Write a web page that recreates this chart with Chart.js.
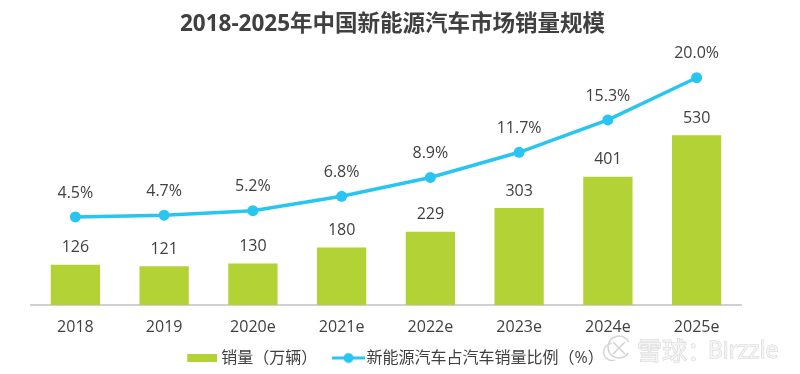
<!DOCTYPE html>
<html>
<head>
<meta charset="utf-8">
<style>
  html, body { margin: 0; padding: 0; background: #fff; }
  canvas { display: block; }
</style>
<script src="https://cdn.jsdelivr.net/npm/chart.js@4/dist/chart.umd.min.js"></script>
</head>
<body>
<canvas id="chart" width="800" height="374"></canvas>
<script>
const years = ["2018", "2019", "2020e", "2021e", "2022e", "2023e", "2024e", "2025e"];
const sales = [126, 121, 130, 180, 229, 303, 401, 530];
const share = [4.5, 4.7, 5.2, 6.8, 8.9, 11.7, 15.3, 20.0];

const FONT = '"Open Sans", "Noto Sans CJK SC", sans-serif';
const TEXT = "#404040";
const GREEN = "#b2d235";
const BLUE = "#29c5f1";

// legend swatches, the library centres these canvases in the box
// the blank strip on the left nudges them right of the box centre
function barSwatch() {
  const c = document.createElement("canvas");
  c.width = 40; c.height = 10;
  const x = c.getContext("2d");
  x.fillStyle = GREEN;
  x.fillRect(10, 1, 30, 8);
  return c;
}
function lineSwatch() {
  const c = document.createElement("canvas");
  c.width = 45; c.height = 11;
  const x = c.getContext("2d");
  x.fillStyle = BLUE;
  x.fillRect(12, 4, 33, 3);
  x.beginPath();
  x.arc(28.5, 5.5, 5, 0, Math.PI * 2);
  x.fill();
  return c;
}

const valueLabels = {
  id: "valueLabels",
  afterDatasetsDraw(chart) {
    const ctx = chart.ctx;
    ctx.save();
    ctx.font = "16px " + FONT;
    ctx.fillStyle = TEXT;
    ctx.textAlign = "center";
    ctx.textBaseline = "middle";
    chart.getDatasetMeta(0).data.forEach((bar, i) => {
      ctx.fillText(String(sales[i]), bar.x, bar.y - 17);
    });
    chart.getDatasetMeta(1).data.forEach((pt, i) => {
      ctx.fillText(share[i].toFixed(1) + "%", pt.x, pt.y - 24);
    });
    ctx.restore();
  }
};

const watermark = {
  id: "watermark",
  afterDraw(chart) {
    const ctx = chart.ctx;
    ctx.save();
    ctx.strokeStyle = "#d4d4d4";
    ctx.lineWidth = 1.5;
    ctx.beginPath();
    ctx.arc(619, 347, 11, 0.6, Math.PI * 1.85);
    ctx.stroke();
    ctx.beginPath();
    ctx.arc(612, 352, 8.5, 1.2, Math.PI * 1.5);
    ctx.stroke();
    ctx.beginPath();
    ctx.moveTo(613, 342); ctx.lineTo(625, 354);
    ctx.moveTo(625, 342); ctx.lineTo(613, 354);
    ctx.stroke();
    ctx.textAlign = "left";
    ctx.textBaseline = "middle";
    ctx.lineWidth = 1;
    ctx.strokeStyle = "#d2d2d2";
    ctx.fillStyle = "#f4f4f4";
    ctx.font = '25px "Noto Sans CJK SC", sans-serif';
    ctx.strokeText("雪球：", 637, 350);
    ctx.fillText("雪球：", 637, 350);
    ctx.font = '23px "Open Sans", sans-serif';
    ctx.strokeText("Birzzle", 708, 351);
    ctx.fillText("Birzzle", 708, 351);
    ctx.restore();
  }
};

new Chart(document.getElementById("chart").getContext("2d"), {
  data: {
    labels: years,
    datasets: [
      {
        type: "bar",
        label: "销量（万辆）  ",
        data: sales,
        yAxisID: "ySales",
        backgroundColor: GREEN,
        categoryPercentage: 1,
        barPercentage: 0.555,
        order: 2
      },
      {
        type: "line",
        label: "新能源汽车占汽车销量比例（%）",
        data: share,
        yAxisID: "yShare",
        borderColor: BLUE,
        backgroundColor: BLUE,
        borderWidth: 3.5,
        pointRadius: 5.5,
        pointBackgroundColor: BLUE,
        pointBorderWidth: 0,
        tension: 0,
        order: 1
      }
    ]
  },
  options: {
    responsive: false,
    animation: false,
    layout: { padding: { left: 0, right: 15, top: 11, bottom: -2 } },
    plugins: {
      title: {
        display: true,
        text: "2018-2025年中国新能源汽车市场销量规模",
        color: TEXT,
        font: { family: FONT, size: 22.5, weight: "bold" },
        padding: { top: 0, bottom: 2 }
      },
      legend: {
        position: "bottom",
        labels: {
          color: TEXT,
          font: { family: FONT, size: 16 },
          usePointStyle: true,
          pointStyleWidth: 32,
          padding: 1,
          generateLabels(chart) {
            return [
              { text: chart.data.datasets[0].label, pointStyle: barSwatch(), fontColor: TEXT, datasetIndex: 0, lineWidth: 0 },
              { text: chart.data.datasets[1].label, pointStyle: lineSwatch(), fontColor: TEXT, datasetIndex: 1, lineWidth: 0 }
            ];
          }
        }
      },
      tooltip: { enabled: false }
    },
    scales: {
      x: {
        grid: { display: false },
        border: { color: "#d0d0d0", width: 2 },
        ticks: { color: TEXT, font: { family: FONT, size: 16 }, padding: 5, maxRotation: 0 },
        afterFit(s) { s.height = 44; }
      },
      ySales: {
        position: "left",
        min: 0,
        max: 828,
        grid: { display: false },
        border: { display: false },
        ticks: { display: false },
        afterFit(s) { s.width = 31; }
      },
      yShare: {
        position: "right",
        min: -5.3,
        max: 24.2,
        grid: { display: false },
        border: { display: false },
        ticks: { display: false },
        afterFit(s) { s.width = 44; }
      }
    }
  },
  plugins: [valueLabels, watermark]
});
</script>
</body>
</html>
